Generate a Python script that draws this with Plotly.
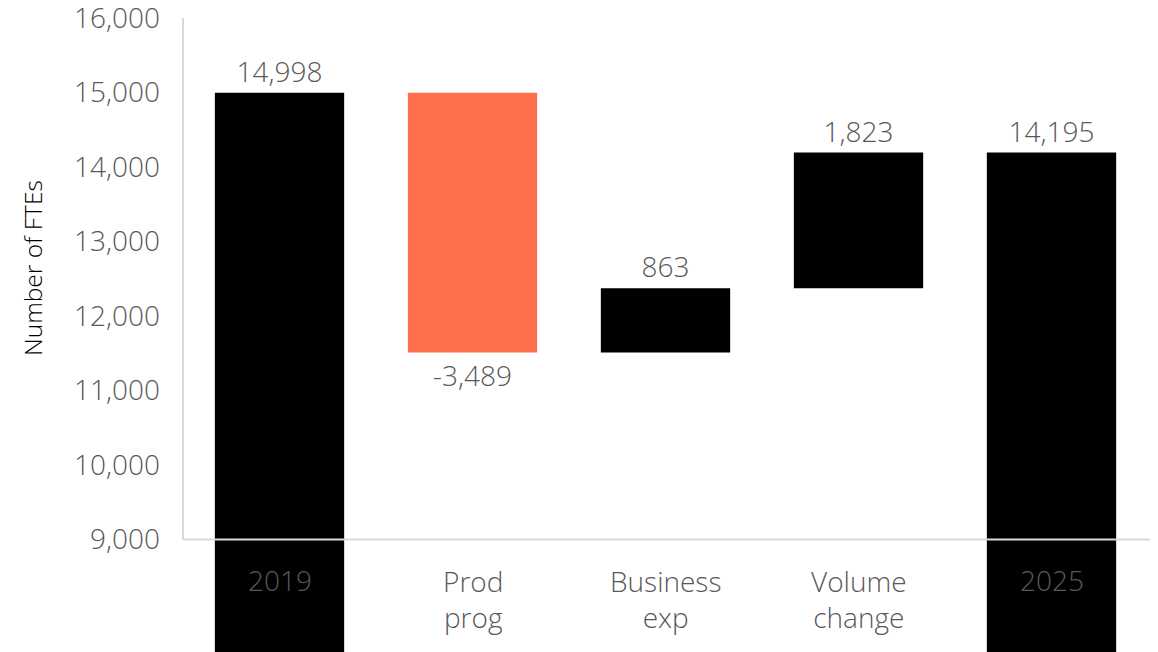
import plotly.graph_objects as go

categories = ["2019", "Prod prog", "Business exp", "Volume change", "2025"]
cat_labels = ["2019", "Prod<br>prog", "Business<br>exp", "Volume<br>change", "2025"]
values = [14998, -3489, 863, 1823, 14195]
kinds = ["total", "delta", "delta", "delta", "total"]
colors = ["#000000", "#FF6F4B", "#000000", "#000000", "#000000"]
y_ticks = [9000, 10000, 11000, 12000, 13000, 14000, 15000, 16000]

FONT = "Open Sans"
GREY = "#595959"

bases = []
running = 0
for v, k in zip(values, kinds):
    if k == "total":
        bases.append(0)
        running = v
    else:
        bases.append(running)
        running += v

texts = [f"{v:,}" for v in values]

fig = go.Figure()
fig.add_trace(go.Bar(
    x=categories, y=values, base=bases,
    marker=dict(color=colors, line=dict(width=0)),
    width=0.67,
    text=texts, textposition="outside",
    textfont=dict(family=FONT, size=28, color=GREY, weight=300),
    cliponaxis=False,
    hoverinfo="skip",
))

ymin, ymax = 7490, 16000.5
fig.update_layout(
    width=1158, height=652,
    margin=dict(l=183, r=10, t=18, b=0, autoexpand=False),
    paper_bgcolor="white", plot_bgcolor="white",
    showlegend=False,
    xaxis=dict(type="category", showticklabels=False, showline=False, showgrid=False,
               zeroline=False, range=[-0.5, 4.5], automargin=False),
    yaxis=dict(range=[ymin, ymax], tickvals=y_ticks,
               ticktext=[f"{t:,}" for t in y_ticks],
               tickfont=dict(family=FONT, size=28, color=GREY, weight=300),
               showgrid=False, zeroline=False, showline=False,
               ticks="", ticklabelstandoff=22, automargin=False,
               ticklabeloverflow="allow"),
)

# axis lines (drawn above bars, as in reference)
fig.add_shape(type="line", xref="paper", yref="y", x0=0, x1=0, y0=9000, y1=16000,
              line=dict(color="#D9D9D9", width=2), layer="above")
fig.add_shape(type="line", xref="paper", yref="y", x0=0, x1=1.002, y0=9000, y1=9000,
              line=dict(color="#D9D9D9", width=2), layer="above")

# category labels below the axis line
for i, lab in enumerate(cat_labels):
    two = "<br>" in lab
    fig.add_annotation(x=i, y=8195 if two else 8463, text=lab, showarrow=False,
                       xref="x", yref="y", yanchor="middle",
                       font=dict(family=FONT, size=28, color=GREY, weight=300))

fig.add_annotation(text="Number of FTEs", xref="paper", yref="paper",
                   x=(32 - 183) / 965, y=(652 - 268) / 634, xanchor="center", yanchor="middle",
                   textangle=-90, showarrow=False,
                   font=dict(family=FONT, size=24.5, color="#000000", weight=300))

fig.write_html("out.html", config={"displayModeBar": False},
               post_script="document.body.style.margin='0';")
